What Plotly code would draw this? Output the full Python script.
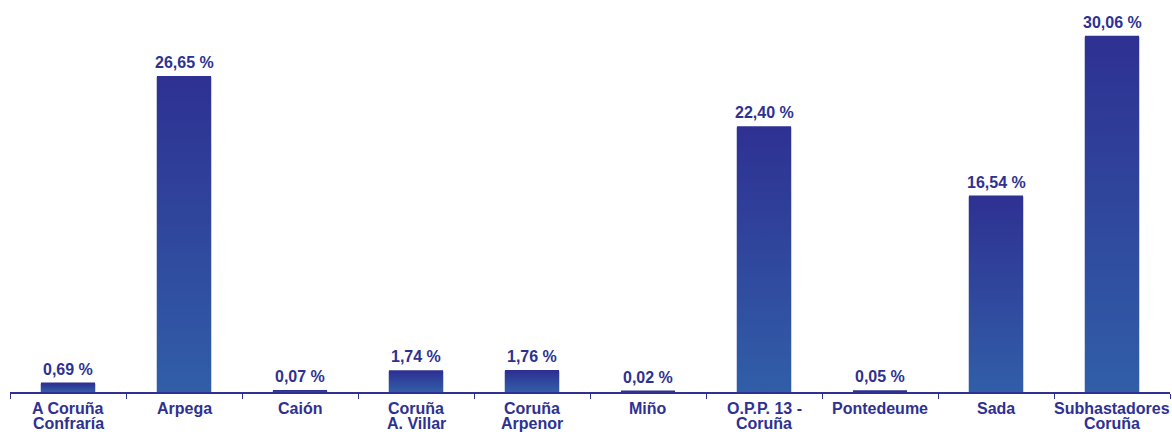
import plotly.graph_objects as go

categories = ["A Coruña\nConfraría", "Arpega", "Caión", "Coruña\nA. Villar", "Coruña\nArpenor",
              "Miño", "O.P.P. 13 -\nCoruña", "Pontedeume", "Sada", "Subhastadores\nCoruña"]
values = [0.69, 26.65, 0.07, 1.74, 1.76, 0.02, 22.40, 0.05, 16.54, 30.06]

NAVY = "#2E3192"
LIGHT = "#315EA8"
FONT = "Arial, Liberation Sans, Helvetica, sans-serif"
FS = 16
BAR_W = 0.445

x = list(range(len(categories)))

fig = go.Figure()

# base bar (gives tiny values a visible thickness via its outline)
fig.add_trace(go.Bar(
    x=x, y=values, width=BAR_W,
    marker=dict(color=NAVY, line=dict(color=NAVY, width=2.5)),
    hoverinfo="skip", showlegend=False,
))

# gradient overlay for each bar
h = BAR_W / 2 + 0.012
for xi, v in zip(x, values):
    fig.add_trace(go.Scatter(
        x=[xi - h, xi + h, xi + h, xi - h, xi - h],
        y=[0, 0, v, v, 0],
        mode="lines", line=dict(width=0), fill="toself",
        fillgradient=dict(type="vertical", colorscale=[[0, LIGHT], [1, NAVY]]),
        hoverinfo="skip", showlegend=False,
    ))

# value labels
for xi, v in zip(x, values):
    fig.add_annotation(
        x=xi, xref="x", y=v, yref="y", yanchor="bottom", yshift=4,
        text=f"{v:.2f} %".replace(".", ","), showarrow=False,
        font=dict(family=FONT, size=FS, color=NAVY, weight="bold"),
    )

# category labels (two-line labels with tight line spacing)
for xi, cat in zip(x, categories):
    for k, line in enumerate(cat.split("\n")):
        fig.add_annotation(
            x=xi, xref="x", y=0, yref="paper", yanchor="top",
            yshift=-6 - 15 * k, text=line, showarrow=False,
            font=dict(family=FONT, size=FS, color=NAVY, weight="bold"),
        )

fig.update_layout(
    width=1172, height=432,
    margin=dict(l=10, r=2, t=10, b=40),
    paper_bgcolor="white", plot_bgcolor="white",
    xaxis=dict(
        range=[-0.5, len(categories) - 0.5],
        tickvals=[i - 0.5 for i in range(len(categories) + 1)],
        showticklabels=False, ticks="outside", ticklen=5, tickwidth=1, tickcolor=NAVY,
        showline=True, linecolor=NAVY, linewidth=1.5, showgrid=False, zeroline=False,
    ),
    yaxis=dict(range=[0, 32.35], visible=False, showgrid=False, zeroline=False),
)

fig.write_html("out.html", config={"displayModeBar": False},
               post_script="document.body.style.margin='0px';")
